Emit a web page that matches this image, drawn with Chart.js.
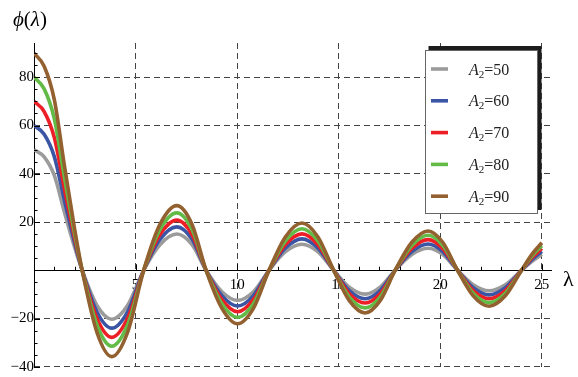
<!DOCTYPE html>
<html>
<head>
<meta charset="utf-8">
<script src="https://cdn.jsdelivr.net/npm/chart.js@4.4.1/dist/chart.umd.min.js"></script>
<style>
  html, body { margin: 0; padding: 0; background: #ffffff; }
  #wrap { width: 578px; height: 377px; position: relative; }
  canvas { display: block; }
</style>
</head>
<body>
<div id="wrap"><canvas id="phiChart" width="578" height="377"></canvas></div>
<script>
// λ sample positions shared by all curves
const lambdaValues = [0, 0.5, 1.0, 1.5, 2.0, 2.37, 3.1, 3.83, 4.62, 5.4, 6.2, 7.03, 7.78, 8.47,
  9.25, 10.02, 10.8, 11.57, 12.38, 13.19, 13.97, 14.75, 15.52, 16.3, 17.04, 17.78, 18.6, 19.4,
  20.12, 20.85, 21.62, 22.4, 23.2, 24.0, 24.5, 25.0];

// φ(λ) for each amplitude A2
const phiA50 = [50, 47, 39.3, 24, 9.5, 0, -14.6, -20.3, -14.4, 0, 10.6, 15, 10.6, 0,
  -8.9, -12.5, -8.9, 0, 7.7, 10.8, 7.7, 0, -7.0, -9.9, -7.0, 0, 6.5, 9.1,
  6.5, 0, -6.0, -8.5, -6.0, 0, 3.6, 6.6];
const phiA60 = [60, 56.4, 47.1, 28.8, 11.4, 0, -17.3, -24, -17, 0, 12.8, 18, 12.8, 0,
  -10.5, -14.8, -10.5, 0, 9.2, 13, 9.2, 0, -8.4, -11.8, -8.4, 0, 7.7, 10.9,
  7.7, 0, -7.2, -10.2, -7.2, 0, 4.3, 7.8];
const phiA70 = [70, 65.8, 55, 33.6, 13.3, 0, -20, -27.8, -19.7, 0, 14.8, 20.8, 14.8, 0,
  -12.2, -17.2, -12.2, 0, 10.7, 15.1, 10.7, 0, -9.7, -13.6, -9.7, 0, 9.0, 12.7,
  9.0, 0, -8.4, -11.8, -8.4, 0, 5.1, 9.0];
const phiA80 = [80, 75.2, 62.8, 38.4, 15.2, 0, -22.7, -31.5, -22.4, 0, 16.9, 23.8, 16.9, 0,
  -13.9, -19.6, -13.9, 0, 12.2, 17.2, 12.2, 0, -11.1, -15.6, -11.1, 0, 10.3, 14.5,
  10.3, 0, -9.5, -13.4, -9.5, 0, 5.8, 10.2];
const phiA90 = [90, 84.6, 70.7, 43.2, 17.1, 0, -25.8, -35.8, -25.4, 0, 19, 26.8, 19, 0,
  -15.8, -22.2, -15.8, 0, 13.9, 19.6, 13.9, 0, -12.6, -17.7, -12.6, 0, 11.6, 16.3,
  11.6, 0, -10.6, -14.9, -10.6, 0, 6.5, 11.4];

const amplitudes = [50, 60, 70, 80, 90];
const seriesValues = [phiA50, phiA60, phiA70, phiA80, phiA90];

// axis ticks
const xMajorTicks = [5, 10, 15, 20, 25];
const xTickLabels = ['5', '10', '15', '20', '25'];
const yMajorTicks = [-40, -20, 20, 40, 60, 80];
const yTickLabels = ['\u221240', '\u221220', '20', '40', '60', '80'];

const lineColors = ['#9b9b9b', '#3b55a5', '#ec1f27', '#63bb47', '#93602f'];
const serif = '"Liberation Serif", "DejaVu Serif", "Times New Roman", serif';

const datasets = seriesValues.map((vals, i) => ({
  label: 'A2=' + amplitudes[i],
  data: lambdaValues.map((x, j) => ({ x: x, y: vals[j] })),
  borderColor: lineColors[i],
  borderWidth: 3.6,
  pointRadius: 0,
  fill: false,
  cubicInterpolationMode: 'monotone',
  order: seriesValues.length - i
}));

// small inward tick marks on both axes
const minorTicks = {
  id: 'minorTicks',
  afterDatasetsDraw(chart) {
    const { ctx, scales: { x, y } } = chart;
    const x0 = x.getPixelForValue(0);
    const y0 = y.getPixelForValue(0);
    ctx.save();
    ctx.strokeStyle = '#000';
    ctx.lineWidth = 1;
    ctx.beginPath();
    for (let v = 1; v <= 25; v++) {
      const px = Math.round(x.getPixelForValue(v)) + 0.5;
      const len = v % 5 === 0 ? 6 : 3.5;
      ctx.moveTo(px, y0);
      ctx.lineTo(px, y0 - len);
    }
    for (let v = -40; v <= 90; v += 5) {
      if (v === 0) continue;
      const py = Math.round(y.getPixelForValue(v)) + 0.5;
      const len = v % 20 === 0 ? 6 : 3.5;
      ctx.moveTo(x0, py);
      ctx.lineTo(x0 + len, py);
    }
    ctx.stroke();
    ctx.restore();
  }
};

// axis names
const axisNames = {
  id: 'axisNames',
  afterDraw(chart) {
    const { ctx } = chart;
    ctx.save();
    ctx.fillStyle = '#000';
    ctx.textBaseline = 'alphabetic';
    ctx.font = 'italic 21px ' + serif;
    ctx.fillText('\u03D5', 13, 26);
    const w = ctx.measureText('\u03D5').width;
    ctx.font = '21px ' + serif;
    ctx.fillText('(', 13 + w, 26);
    const w2 = ctx.measureText('(').width;
    ctx.font = 'italic 21px ' + serif;
    ctx.fillText('\u03BB', 13 + w + w2, 26);
    const w3 = ctx.measureText('\u03BB').width;
    ctx.font = '21px ' + serif;
    ctx.fillText(')', 13 + w + w2 + w3, 26);
    ctx.font = '22px ' + serif;
    ctx.fillText('\u03BB', 563, 286);
    ctx.restore();
  }
};

// framed legend with a drop shadow
const framedLegend = {
  id: 'framedLegend',
  afterDraw(chart) {
    const { ctx } = chart;
    const box = { left: 425, top: 50, width: 113, height: 164 };
    ctx.save();
    ctx.fillStyle = '#1c1c1c';
    ctx.fillRect(box.left + 3.5, box.top - 4, box.width, box.height);
    ctx.fillStyle = '#ffffff';
    ctx.fillRect(box.left, box.top, box.width, box.height);
    ctx.strokeStyle = '#666666';
    ctx.lineWidth = 1;
    ctx.strokeRect(box.left + 0.5, box.top + 0.5, box.width - 1, box.height - 1);
    chart.data.datasets.forEach((ds, i) => {
      const cy = box.top + 19 + i * 31.8;
      ctx.strokeStyle = ds.borderColor;
      ctx.lineWidth = 3.6;
      ctx.beginPath();
      ctx.moveTo(431, cy);
      ctx.lineTo(448, cy);
      ctx.stroke();
      ctx.fillStyle = '#222';
      ctx.textBaseline = 'alphabetic';
      let tx = 469;
      const base = cy + 5.5;
      ctx.font = 'italic 16px ' + serif;
      ctx.fillText('A', tx, base);
      tx += ctx.measureText('A').width;
      ctx.font = '11px ' + serif;
      ctx.fillText('2', tx, base + 3);
      tx += ctx.measureText('2').width;
      ctx.font = '16px ' + serif;
      ctx.fillText('=' + amplitudes[i], tx, base);
    });
    ctx.restore();
  }
};

new Chart(document.getElementById('phiChart'), {
  type: 'line',
  data: { datasets: datasets },
  plugins: [minorTicks, axisNames, framedLegend],
  options: {
    responsive: false,
    animation: false,
    devicePixelRatio: 1,
    layout: { padding: { left: 34, right: 27, top: 43, bottom: 9 } },
    plugins: { legend: { display: false }, tooltip: { enabled: false } },
    scales: {
      x: {
        type: 'linear',
        min: 0,
        max: 25.45,
        position: { y: 0 },
        afterBuildTicks: (scale) => { scale.ticks = xMajorTicks.map(v => ({ value: v })); },
        ticks: {
          autoSkip: false,
          maxRotation: 0,
          padding: 6,
          color: '#000',
          font: { family: serif, size: 15 },
          callback: (value) => { const k = xMajorTicks.indexOf(value); return k >= 0 ? xTickLabels[k] : ''; }
        },
        grid: { color: '#444444', lineWidth: 1, drawTicks: false },
        border: { display: true, color: '#000', width: 1, dash: [6, 4] }
      },
      y: {
        type: 'linear',
        min: -40.1,
        max: 94.2,
        position: { x: 0 },
        afterBuildTicks: (scale) => { scale.ticks = yMajorTicks.map(v => ({ value: v })); },
        ticks: {
          autoSkip: false,
          padding: 1,
          color: '#000',
          font: { family: serif, size: 15 },
          callback: (value) => { const k = yMajorTicks.indexOf(value); return k >= 0 ? yTickLabels[k] : ''; }
        },
        grid: { color: '#444444', lineWidth: 1, drawTicks: false },
        border: { display: true, color: '#000', width: 1, dash: [6, 4] }
      }
    }
  }
});
</script>
</body>
</html>
